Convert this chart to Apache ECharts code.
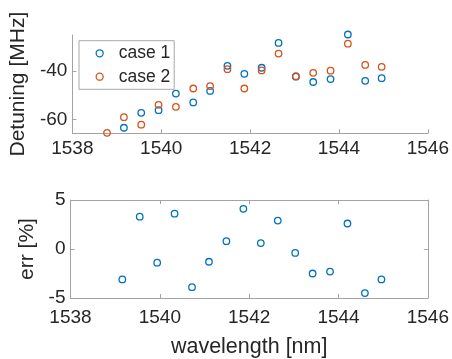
<!DOCTYPE html>
<html>
<head>
<meta charset="utf-8">
<script src="https://cdn.jsdelivr.net/npm/echarts@6/dist/echarts.min.js"></script>
<style>
html,body{margin:0;padding:0;background:#fff;}
#c{width:452px;height:359px;}
</style>
</head>
<body>
<div id="c"></div>
<script>
// Data
const wl1 = [1539.16,1539.55,1539.94,1540.33,1540.72,1541.10,1541.49,1541.87,1542.26,1542.64,1543.03,1543.42,1543.81,1544.20,1544.59,1544.96];
const case1 = [-63.5,-57.3,-56.2,-49.3,-53.0,-48.2,-37.8,-41.1,-38.6,-28.3,-42.3,-44.5,-43.3,-24.8,-44.0,-42.9];
const wl2 = [1538.78,1539.16,1539.55,1539.94,1540.33,1540.72,1541.10,1541.49,1541.87,1542.26,1542.64,1543.03,1543.42,1543.81,1544.20,1544.59,1544.96];
const case2 = [-65.6,-59.1,-62.2,-54.0,-54.8,-47.2,-46.2,-39.2,-47.2,-39.7,-32.7,-42.1,-40.7,-39.8,-28.6,-37.4,-38.2];
const errWl = [1539.16,1539.55,1539.94,1540.33,1540.72,1541.10,1541.49,1541.87,1542.26,1542.64,1543.03,1543.42,1543.81,1544.20,1544.59,1544.96];
const errVals = [-3.1,3.3,-1.4,3.6,-3.9,-1.3,0.8,4.1,0.6,2.9,-0.4,-2.5,-2.3,2.6,-4.5,-3.1];
const detuneTicks = [-60,-40];
const seriesNames = ['case 1','case 2'];

const BLUE = '#0072BD', ORANGE = '#D95319';
const AXC = '#a3a3a3', TXT = '#262626';
const FONT = 'Liberation Sans, Arial, sans-serif';

const zip = (xs, ys) => xs.map((x,i)=>[x, ys[i]]);

const chart = echarts.init(document.getElementById('c'), null, {renderer:'canvas'});

const axLine = {show:true, onZero:false, lineStyle:{color:AXC, width:1}};
const tickIn = {show:true, inside:true, length:4, lineStyle:{color:AXC, width:1}};
const lbl = (m) => ({color:TXT, fontSize:19, fontFamily:FONT, margin:m, formatter:(v)=>String(v)});

const mk = (name, color, data, xi, yi) => ({
  name, type:'scatter', xAxisIndex:xi, yAxisIndex:yi, data,
  symbol:'circle', symbolSize:6.5, clip:false,
  itemStyle:{color:'rgba(0,0,0,0)', borderColor:color, borderWidth:1.3, opacity:1},
  emphasis:{disabled:true}
});

chart.setOption({
  animation:false,
  backgroundColor:'#fff',
  grid:[
    {left:70.5, top:35, width:358, height:98.3},
    {left:70.5, top:200, width:358, height:98.3}
  ],
  xAxis:[
    {gridIndex:0, type:'value', min:1538, max:1546, interval:2, position:'bottom',
     axisLine:axLine, axisTick:tickIn, axisLabel:lbl(6), splitLine:{show:false}},
    {gridIndex:1, type:'value', min:1538, max:1546, interval:2, position:'bottom',
     axisLine:axLine, axisTick:tickIn, axisLabel:lbl(10), splitLine:{show:false},
     name:'wavelength [nm]', nameLocation:'middle', nameGap:38,
     nameTextStyle:{color:TXT, fontSize:21.5, fontFamily:FONT}},
    {gridIndex:1, type:'value', min:1538, max:1546, interval:2, position:'top',
     axisLine:axLine, axisTick:tickIn, axisLabel:{show:false}, splitLine:{show:false}}
  ],
  yAxis:[
    {gridIndex:0, type:'value', min:-65.8, max:-25, position:'left',
     axisLine:axLine,
     axisTick:Object.assign({}, tickIn, {customValues:detuneTicks}),
     axisLabel:Object.assign(lbl(5), {customValues:detuneTicks}),
     splitLine:{show:false},
     name:'Detuning [MHz]', nameLocation:'middle', nameGap:29,
     nameTextStyle:{color:TXT, fontSize:21, fontFamily:FONT}},
    {gridIndex:1, type:'value', min:-5, max:5, interval:5, position:'left',
     axisLine:axLine, axisTick:tickIn, axisLabel:lbl(5), splitLine:{show:false},
     name:'err [%]', nameLocation:'middle', nameGap:20,
     nameTextStyle:{color:TXT, fontSize:21, fontFamily:FONT}},
    {gridIndex:1, type:'value', min:-5, max:5, interval:5, position:'right',
     axisLine:axLine, axisTick:tickIn, axisLabel:{show:false}, splitLine:{show:false}}
  ],
  legend:{
    orient:'vertical', left:79, top:40.7,
    data:seriesNames,
    itemWidth:7, itemHeight:7, itemGap:5.4,
    padding:[3.6,4,3.6,16.5],
    borderColor:'#a8a8a8', borderWidth:1, borderRadius:0,
    backgroundColor:'#fff',
    itemStyle:{borderWidth:1.3},
    textStyle:{color:TXT, fontSize:17.5, fontFamily:FONT, lineHeight:18, padding:[0,0,0,10.5]},
    selectedMode:false
  },
  series:[
    mk(seriesNames[0], BLUE, zip(wl1, case1), 0, 0),
    mk(seriesNames[1], ORANGE, zip(wl2, case2), 0, 0),
    mk('err', BLUE, zip(errWl, errVals), 1, 1)
  ]
});
</script>
</body>
</html>
